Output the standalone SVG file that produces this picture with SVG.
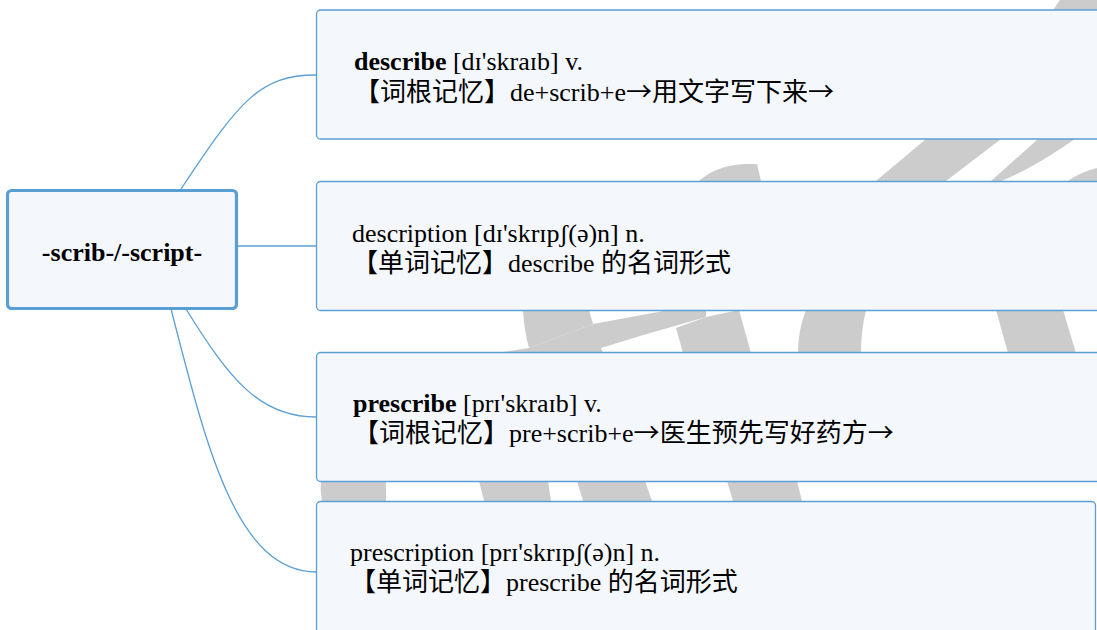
<svg xmlns="http://www.w3.org/2000/svg" width="1097" height="630" viewBox="0 0 1097 630">
<style>
.box{fill:#f4f7fc;stroke:#5b9fd6;stroke-width:1.3}
.root{fill:#f4f7fc;stroke:#5a9fd4;stroke-width:3.2}
.con{fill:none;stroke:#5b9fd6;stroke-width:1.3}
.t{font-family:'Liberation Serif','Noto Sans CJK SC','DejaVu Serif',serif;font-size:26px;fill:#000}
.b{font-weight:bold}
.ar{font-family:'Noto Sans CJK SC',sans-serif}
</style>
<rect width="1097" height="630" fill="#ffffff"/>
<g id="background-marks" fill="#cccccc">
<path d="M1053,10 L1060,0 L1097,0 L1097,10 Z"/>
<path d="M699,181 Q715,166 744,164 L757,164 L761,181 Z"/>
<path d="M926,139 L1001,139 L946,181 L876,181 Z"/>
<path d="M1038,139 L1075,139 Q1030,170 1001,181 L991,181 Z"/>
<path d="M1068,181 Q1080,172 1097,168 L1097,181 Z"/>
<path d="M523,310 L589,310 L593,324 L529,348 Q524,330 523,310 Z"/>
<path d="M496,353 L529,348 L593,324 L669,310 L706,310 L706,317 L640,336 L601,348 L603,353 Z"/>
<path d="M676,328 L706,317 L739,310 L751,353 L683,353 Z"/>
<path d="M806,310 L866,310 Q861,330 861,353 L798,353 Q798,330 806,310 Z"/>
<path d="M996,310 L1063,310 L1076,353 L1008,353 Z"/>
<path d="M321,481 L386,481 L386,501 L322,501 Q320,490 321,481 Z"/>
<path d="M479,481 L548,481 L551,501 L484,501 Z"/>
<path d="M577,481 L645,481 L652,501 L583,501 Z"/>
<path d="M727,481 L797,481 L802,501 L733,501 Z"/>
</g>
<g id="connectors">
<path class="con" d="M181,189 C240,100 260,75 316,75"/>
<path class="con" d="M237,246 L316,246"/>
<path class="con" d="M186,309 C230,380 260,417 316,417"/>
<path class="con" d="M171,309 C205,440 235,572 316,572"/>
</g>
<g id="root">
<rect class="root" x="7.5" y="190.5" width="229" height="118" rx="4"/>
<text class="t b" x="122" y="261" text-anchor="middle">-scrib-/-script-</text>
</g>
<g id="describe">
<rect class="box" x="316.5" y="10" width="800" height="129" rx="4"/>
<text class="t" x="354" y="70"><tspan class="b">describe</tspan> [dɪ'skraɪb] v.</text>
<text class="t" x="354" y="101">【词根记忆】de+scrib+e<tspan class="ar">→</tspan>用文字写下来<tspan class="ar">→</tspan></text>
</g>
<g id="description">
<rect class="box" x="316.5" y="181.5" width="800" height="129" rx="4"/>
<text class="t" x="352" y="242">description [dɪ'skrɪpʃ(ə)n] n.</text>
<text class="t" x="352" y="272">【单词记忆】describe 的名词形式</text>
</g>
<g id="prescribe">
<rect class="box" x="316.5" y="352.5" width="800" height="129" rx="4"/>
<text class="t" x="353" y="412"><tspan class="b">prescribe</tspan> [prɪ'skraɪb] v.</text>
<text class="t" x="353" y="442">【词根记忆】pre+scrib+e<tspan class="ar">→</tspan>医生预先写好药方<tspan class="ar">→</tspan></text>
</g>
<g id="prescription">
<rect class="box" x="316.5" y="501.5" width="779" height="142" rx="4"/>
<text class="t" x="350" y="561">prescription [prɪ'skrɪpʃ(ə)n] n.</text>
<text class="t" x="350" y="591">【单词记忆】prescribe 的名词形式</text>
</g>
</svg>
